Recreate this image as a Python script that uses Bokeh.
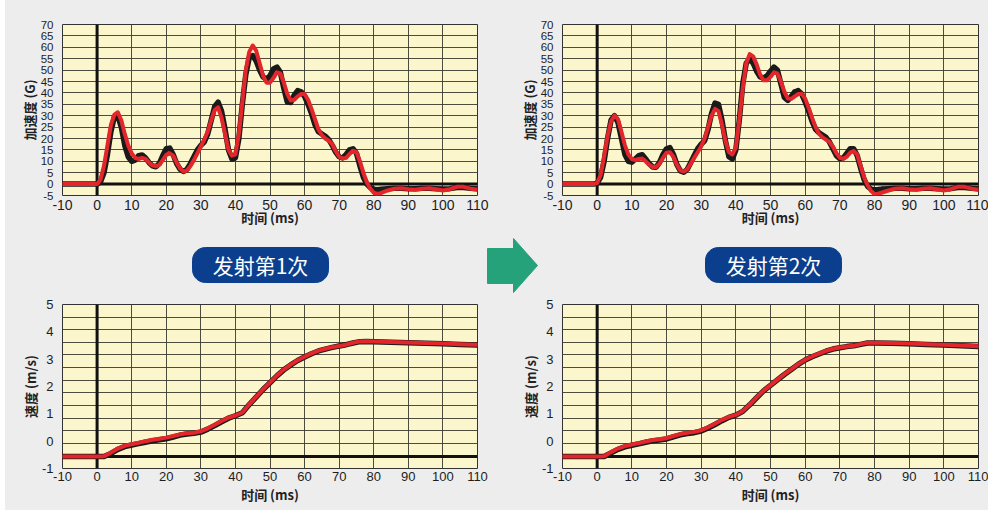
import numpy as np
from bokeh.plotting import figure
from bokeh.layouts import row, column, Spacer
from bokeh.models import Range1d, FixedTicker, Span
from bokeh.core.properties import value
from bokeh.embed import file_html
from bokeh.resources import INLINE

# ---------------- data ----------------
x_ticks = [-10, 0, 10, 20, 30, 40, 50, 60, 70, 80, 90, 100, 110]
acc_ticks = [-5, 0, 5, 10, 15, 20, 25, 30, 35, 40, 45, 50, 55, 60, 65, 70]
vel_ticks = [-1, 0, 1, 2, 3, 4, 5]

t_acc = [-10, -1, 0, 1, 2, 3, 4, 5, 6, 7, 8, 9, 10, 11, 12, 13, 14, 15, 16, 17, 18, 19,
         20, 21, 22, 23, 24, 25, 26, 27, 28, 29, 30, 31, 32, 33, 34, 35, 36, 37, 38, 39,
         40, 41, 42, 43, 44, 45, 46, 47, 48, 49, 50, 51, 52, 53, 54, 55, 56, 57, 58, 59,
         60, 61, 62, 63, 64, 65, 66, 67, 68, 69, 70, 71, 72, 73, 74, 75, 76, 77, 78, 79,
         80, 81, 82, 84, 86, 88, 90, 92, 94, 96, 98, 100, 102, 104, 106, 108, 110]

acc1_red = [0, 0, 0, 2, 8, 17, 26, 30.5, 31.5, 28, 22, 17, 13.5, 11.5, 11, 11.5, 11, 9.5, 8.2, 7.8, 8.5, 10.5,
            12.8, 13.5, 12.5, 9.5, 6.8, 5.5, 6, 8, 10.5, 13.5, 16.5, 19.5, 23, 28, 32.5, 33.7, 29, 22, 15, 12.5,
            13, 22, 36, 50, 58, 60.8, 58.5, 53, 47.5, 44.5, 44.5, 46.5, 49, 48.5, 44.5, 39.5, 36.7, 37, 38.5, 39.5,
            39.5, 37, 33, 28.5, 24, 21.5, 20, 19, 17.5, 14.5, 12, 11.2, 11.5, 13.2, 14.6, 14, 10, 5, 0.8, -2,
            -3.8, -4.3, -4, -2.8, -2, -1.8, -2.2, -2.5, -2, -1.8, -2.3, -2.8, -2.2, -1.2, -1.2, -2, -2.5]

acc1_black = [0, 0, 0, 1, 5, 13, 23, 29.5, 30, 25, 17, 12, 10, 10.5, 12.5, 12.8, 11.5, 9.5, 8, 7.6, 9, 12.5,
              15.5, 15.8, 13, 9, 6.5, 5.5, 6.5, 9, 12, 15, 17, 18.5, 22, 28, 34, 35.9, 32, 24, 15, 11,
              11.5, 20, 35, 48, 55.5, 56.4, 54, 50, 47, 46, 47.5, 50.5, 51.3, 49, 42, 36, 35.8, 39, 41, 40.5,
              38.5, 35, 31, 26, 23, 22, 21, 19.5, 17, 14, 12, 11.5, 13, 15, 15.5, 13.5, 8, 3, 0, -1.5,
              -2.2, -2.5, -2.3, -2, -1.8, -1.8, -2, -2, -1.8, -1.8, -2, -2.2, -2, -1.5, -1.5, -1.8, -2]

acc2_red = [0, 0, 0.5, 4, 12, 21, 27.5, 30.1, 28.5, 23, 17, 13, 11, 10.5, 11, 11.2, 10, 8.5, 7.5, 7.5, 9, 11.5,
            13.8, 14, 12, 8.5, 6, 5.5, 6.5, 9, 11.5, 14, 16.5, 20, 25, 30, 33, 32, 26, 19, 14, 13,
            16, 28, 42, 53, 57, 56, 52.5, 48, 45.5, 45.5, 47, 49, 48.5, 45, 40.5, 37.5, 37.4, 38.5, 39.5, 39.6,
            37.5, 33.5, 29, 25, 22, 20.5, 19.5, 18.5, 16.5, 13.5, 11.5, 11.1, 12, 13.8, 14.5, 13, 8, 3, -0.5, -3,
            -4.3, -4.2, -3.8, -2.8, -2, -1.8, -2.2, -2.5, -2, -1.8, -2.3, -2.8, -2.2, -1.2, -1.2, -2, -2.5]

acc2_black = [0, 0, 0.5, 3, 10, 20, 28, 30, 27, 20, 13, 10, 9.6, 11, 12.5, 12.9, 11, 9, 7.5, 7.4, 9.5, 13,
              15.5, 16, 13, 8.5, 5.8, 5.2, 6.5, 9.5, 12.5, 15.5, 17.5, 19, 24, 31, 35.5, 35, 28, 19, 12, 11,
              15, 28, 44, 53, 55, 53, 49.5, 47, 46.5, 47.5, 49.5, 51.3, 50, 44, 38, 36.7, 38.5, 40.5, 41, 39.5,
              36, 32, 27.5, 24, 22.5, 21.5, 20.5, 18.5, 15.5, 12.5, 11.2, 11.5, 13.5, 15.5, 15.5, 12.5, 7, 2, -1, -2.2,
              -2.5, -2.4, -2.2, -2, -1.8, -1.8, -2, -2, -1.8, -1.8, -2, -2.2, -2, -1.5, -1.5, -1.8, -2]

t_vel = [-10, 0, 2, 4, 6, 8, 10, 12, 14, 16, 18, 20, 22, 24, 26, 28, 30, 32, 34, 36, 38, 40,
         42, 44, 46, 48, 50, 52, 54, 56, 58, 60, 62, 64, 66, 68, 70, 72, 74, 76, 78, 80,
         85, 90, 95, 100, 105, 110]

vel1_red = [-0.56, -0.56, -0.55, -0.42, -0.27, -0.17, -0.11, -0.06, 0.0, 0.05, 0.09, 0.13, 0.19, 0.25, 0.29,
            0.31, 0.36, 0.47, 0.6, 0.74, 0.86, 0.94, 1.05, 1.35, 1.62, 1.9, 2.15, 2.4, 2.62, 2.8, 2.96, 3.09,
            3.21, 3.31, 3.38, 3.44, 3.48, 3.53, 3.6, 3.65, 3.66, 3.65, 3.63, 3.61, 3.59, 3.57, 3.55, 3.53]
vel1_black = [-0.56, -0.56, -0.56, -0.45, -0.3, -0.2, -0.14, -0.09, -0.04, 0.01, 0.05, 0.09, 0.15, 0.22, 0.26,
              0.29, 0.33, 0.44, 0.57, 0.71, 0.84, 0.93, 1.04, 1.34, 1.61, 1.89, 2.14, 2.39, 2.61, 2.79, 2.95, 3.08,
              3.2, 3.3, 3.37, 3.43, 3.48, 3.53, 3.59, 3.64, 3.65, 3.64, 3.62, 3.6, 3.58, 3.56, 3.54, 3.52]
vel2_red = [-0.56, -0.56, -0.55, -0.4, -0.27, -0.18, -0.12, -0.07, -0.01, 0.04, 0.07, 0.11, 0.19, 0.26, 0.31,
            0.34, 0.4, 0.51, 0.64, 0.78, 0.89, 0.96, 1.1, 1.34, 1.6, 1.85, 2.05, 2.25, 2.45, 2.63, 2.82, 2.98,
            3.1, 3.2, 3.3, 3.38, 3.43, 3.46, 3.49, 3.55, 3.6, 3.6, 3.59, 3.57, 3.55, 3.53, 3.5, 3.47]
vel2_black = [-0.56, -0.56, -0.56, -0.43, -0.3, -0.21, -0.15, -0.1, -0.04, 0.01, 0.04, 0.08, 0.16, 0.23, 0.28,
              0.31, 0.37, 0.48, 0.61, 0.75, 0.87, 0.95, 1.09, 1.33, 1.59, 1.84, 2.04, 2.24, 2.44, 2.62, 2.81, 2.97,
              3.09, 3.19, 3.29, 3.37, 3.42, 3.46, 3.49, 3.54, 3.59, 3.59, 3.58, 3.56, 3.54, 3.52, 3.49, 3.46]
vel_baseline = -0.56

labels = ["发射第1次", "发射第2次"]

# ---------------- style ----------------
PANEL = "#ededed"
FRAME = "#fbf6cc"
GRID = "#3a3a30"
RED = "#e2262b"
BLACK = "#1a1a1a"
CJK = "Noto Sans CJK SC"
SANS = "Liberation Sans"


def make_plot(t, black, red, yrange, yticks, ylabel, w, lb, rb, h, tb, bb,
              top, ygrid_ticks=None, baseline=0.0):
    p = figure(width=w, height=h, output_backend="svg", toolbar_location=None,
               x_range=Range1d(-10, 110), y_range=Range1d(*yrange),
               min_border_left=lb, min_border_right=rb, min_border_top=tb, min_border_bottom=bb)
    p.background_fill_color = FRAME
    p.border_fill_color = PANEL
    p.outline_line_color = "#333333"
    p.outline_line_width = 1
    p.xaxis.ticker = FixedTicker(ticks=x_ticks)
    p.yaxis.ticker = FixedTicker(ticks=yticks)
    p.xaxis.major_label_overrides = {v: str(v) for v in x_ticks}
    p.yaxis.major_label_overrides = {v: str(v) for v in yticks}
    if ygrid_ticks is not None:
        p.ygrid.ticker = FixedTicker(ticks=ygrid_ticks)
    for g in (p.xgrid, p.ygrid):
        g.grid_line_color = GRID
        g.grid_line_width = 1
        g.grid_line_alpha = 0.9
    for ax in (p.xaxis, p.yaxis):
        ax.axis_line_color = None
        ax.major_tick_line_color = None
        ax.minor_tick_line_color = None
        ax.major_tick_out = 0
        ax.major_tick_in = 0
        ax.minor_tick_out = 0
        ax.minor_tick_in = 0
        ax.major_label_text_color = "#1e1e1e"
        ax.major_label_text_font = SANS
        ax.axis_label_text_font = CJK
        ax.axis_label_text_font_style = "bold"
        ax.axis_label_text_font_size = "13px"
        ax.axis_label_text_color = "#222222"
    if top:
        p.xaxis.major_label_text_font_size = "14px"
        p.yaxis.major_label_text_font_size = "11.5px"
        p.xaxis.major_label_standoff = 4
        p.xaxis.axis_label_standoff = -5
    else:
        p.xaxis.major_label_text_font_size = "13px"
        p.yaxis.major_label_text_font_size = "13px"
        p.xaxis.major_label_standoff = 3
        p.xaxis.axis_label_standoff = 1
    p.yaxis.major_label_standoff = 9
    p.yaxis.axis_label_standoff = -1
    p.xaxis.axis_label = "时间 (ms)"
    p.yaxis.axis_label = ylabel

    vs = Span(location=0, dimension="height", line_color="#111111", line_width=3, level="underlay")
    hs = Span(location=baseline, dimension="width", line_color="#111111", line_width=3, level="underlay")
    p.add_layout(vs)
    p.add_layout(hs)

    p.line(t, black, line_color=BLACK, line_width=5.5, line_join="round", line_cap="round")
    p.line(t, red, line_color=RED, line_width=4, line_join="round", line_cap="round")
    return p


vel_grid = [-1 + 6.0 * k / 13 for k in range(14)]

tl = make_plot(t_acc, acc1_black, acc1_red, (-5, 70), acc_ticks, "加速度 (G)",
               485, 57, 13, 230, 24, 35, True)
tr = make_plot(t_acc, acc2_black, acc2_red, (-5, 70), acc_ticks, "加速度 (G)",
               498, 72, 10, 230, 24, 35, True)
bl = make_plot(t_vel, vel1_black, vel1_red, (-1, 5), vel_ticks, "速度 (m/s)",
               485, 57, 13, 215, 9, 42, False, vel_grid, vel_baseline)
br = make_plot(t_vel, vel2_black, vel2_red, (-1, 5), vel_ticks, "速度 (m/s)",
               498, 72, 10, 215, 9, 42, False, vel_grid, vel_baseline)

# ---------------- middle band: labels and arrow ----------------
mid = figure(width=983, height=65, output_backend="svg", toolbar_location=None,
             x_range=Range1d(5, 988), y_range=Range1d(295, 230),
             x_axis_type=None, y_axis_type=None, min_border=0)
mid.background_fill_color = PANEL
mid.border_fill_color = PANEL
mid.outline_line_color = None
mid.grid.visible = False


def rounded(cx, cy, w, h, r, n=10):
    xs, ys = [], []
    corners = [(cx + w / 2 - r, cy - h / 2 + r, -90, 0),
               (cx + w / 2 - r, cy + h / 2 - r, 0, 90),
               (cx - w / 2 + r, cy + h / 2 - r, 90, 180),
               (cx - w / 2 + r, cy - h / 2 + r, 180, 270)]
    for ccx, ccy, a0, a1 in corners:
        for a in np.linspace(np.radians(a0), np.radians(a1), n):
            xs.append(ccx + r * np.cos(a))
            ys.append(ccy + r * np.sin(a))
    return xs, ys


for cx, lab in zip([260, 773], labels):
    xs, ys = rounded(cx, 264.5, 136, 35, 13)
    mid.patch(xs, ys, fill_color="#0b3f8e", line_color="#0b3f8e")
    mid.text(x=[cx], y=[264.5], text=[lab], text_font=value(CJK), text_font_size="21px",
             text_color="white", text_align="center", text_baseline="middle")

mid.patch([487, 513, 513, 537, 513, 513, 487], [248, 248, 238, 265, 292, 283, 283],
          fill_color="#26a27b", line_color="#26a27b")

inner = column(row(tl, tr, styles={"background-color": PANEL}), mid,
               row(bl, br, styles={"background-color": PANEL}),
               styles={"background-color": PANEL})
layout = row(Spacer(width=5, height=510), inner)

open("out.html", "w").write(file_html(layout, INLINE))
